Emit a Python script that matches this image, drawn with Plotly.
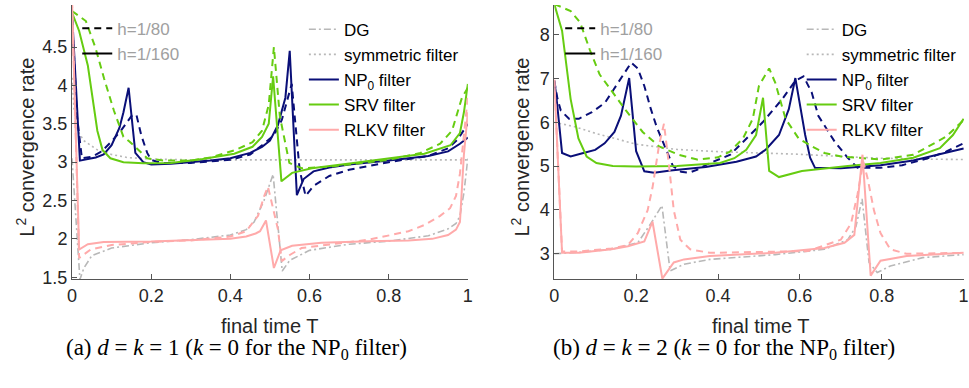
import plotly.graph_objects as go

# ---------------- data: panel (a) d=k=1 ----------------
A_NP0_160_T = [0, 0.02, 0.04, 0.06, 0.08, 0.10, 0.12, 0.13, 0.143, 0.16, 0.18, 0.20, 0.25, 0.30, 0.35, 0.40, 0.45, 0.48, 0.50, 0.52, 0.539, 0.55, 0.568, 0.585, 0.61, 0.65, 0.70, 0.80, 0.90, 0.95, 0.98, 1.0]
A_NP0_160_Y = [4.95, 3.02, 3.04, 3.06, 3.10, 3.22, 3.45, 3.65, 3.97, 3.12, 3.00, 2.97, 2.98, 3.00, 3.02, 3.05, 3.12, 3.20, 3.28, 3.48, 3.84, 4.45, 2.57, 2.78, 2.88, 2.93, 2.97, 3.02, 3.08, 3.14, 3.24, 3.32]
A_NP0_80_T = [0, 0.0125, 0.025, 0.05, 0.075, 0.10, 0.125, 0.15, 0.1625, 0.175, 0.19, 0.20, 0.225, 0.30, 0.40, 0.45, 0.48, 0.51, 0.53, 0.555, 0.575, 0.59, 0.61, 0.65, 0.70, 0.75, 0.80, 0.85, 0.90, 0.95, 0.975, 1.0]
A_NP0_80_Y = [4.9, 3.6, 3.05, 3.07, 3.14, 3.27, 3.42, 3.6, 3.62, 3.35, 3.12, 3.03, 2.99, 2.99, 3.03, 3.10, 3.22, 3.35, 3.55, 4.02, 2.9, 2.56, 2.69, 2.82, 2.90, 2.95, 3.0, 3.04, 3.08, 3.18, 3.3, 3.5]
A_SRV_160_T = [0, 0.018, 0.04, 0.05, 0.064, 0.077, 0.097, 0.13, 0.18, 0.25, 0.33, 0.41, 0.456, 0.48, 0.497, 0.508, 0.529, 0.556, 0.606, 0.706, 0.806, 0.89, 0.956, 0.98, 0.99, 1.0]
A_SRV_160_Y = [4.95, 4.71, 4.26, 3.88, 3.41, 3.16, 3.05, 3.0, 2.985, 2.99, 3.04, 3.11, 3.2, 3.33, 3.5, 4.12, 2.75, 2.86, 2.92, 2.985, 3.05, 3.11, 3.22, 3.38, 3.65, 4.02]
A_SRV_80_T = [0, 0.035, 0.06, 0.081, 0.106, 0.13, 0.145, 0.164, 0.19, 0.23, 0.30, 0.35, 0.414, 0.456, 0.48, 0.497, 0.51, 0.525, 0.549, 0.58, 0.65, 0.70, 0.80, 0.88, 0.93, 0.96, 0.985, 1.0]
A_SRV_80_Y = [4.97, 4.84, 4.48, 4.09, 3.67, 3.33, 3.27, 3.18, 3.05, 3.02, 3.02, 3.06, 3.16, 3.26, 3.41, 3.75, 4.50, 3.6, 2.99, 2.92, 2.94, 2.97, 3.03, 3.12, 3.24, 3.41, 3.84, 3.97]
A_RLKV_160_T = [0, 0.018, 0.04, 0.08, 0.2, 0.3, 0.4, 0.44, 0.464, 0.475, 0.49, 0.51, 0.527, 0.556, 0.63, 0.75, 0.85, 0.91, 0.95, 0.97, 0.98, 0.99, 1.0]
A_RLKV_160_Y = [5.1, 1.86, 1.93, 1.96, 1.965, 1.98, 2.0, 2.03, 2.07, 2.1, 2.24, 1.62, 1.85, 1.91, 1.95, 1.97, 1.98, 2.0, 2.05, 2.12, 2.22, 3.1, 3.65]
A_RLKV_80_T = [0, 0.018, 0.047, 0.1, 0.2, 0.3, 0.4, 0.44, 0.47, 0.485, 0.495, 0.52, 0.53, 0.55, 0.58, 0.664, 0.75, 0.806, 0.85, 0.89, 0.93, 0.955, 0.97, 0.98, 0.99, 1.0]
A_RLKV_80_Y = [5.1, 1.75, 1.86, 1.92, 1.96, 1.98, 2.03, 2.1, 2.3, 2.55, 2.68, 2.13, 1.71, 1.79, 1.88, 1.93, 1.99, 2.05, 2.1, 2.18, 2.3, 2.4, 2.56, 2.85, 3.4, 3.85]
A_DG_T = [0, 0.02, 0.03, 0.05, 0.1, 0.2, 0.3, 0.4, 0.44, 0.46, 0.485, 0.508, 0.531, 0.55, 0.6, 0.7, 0.8, 0.9, 0.95, 0.97, 0.98, 0.99, 1.0]
A_DG_Y = [3.05, 1.47, 1.62, 1.78, 1.88, 1.95, 1.99, 2.05, 2.12, 2.22, 2.5, 2.84, 1.58, 1.72, 1.85, 1.93, 1.97, 2.04, 2.13, 2.2, 2.3, 2.6, 3.05]
A_SYM_T = [0, 0.005, 0.014, 0.03, 0.064, 0.1, 0.14, 0.2, 0.3, 0.5, 0.7, 1.0]
A_SYM_Y = [4.1, 3.7, 3.41, 3.28, 3.16, 3.1, 3.06, 3.04, 3.03, 3.03, 3.03, 3.03]

# ---------------- data: panel (b) d=k=2 ----------------
B_NP0_160_T = [0, 0.005, 0.019, 0.04, 0.071, 0.1, 0.123, 0.147, 0.163, 0.183, 0.2, 0.22, 0.244, 0.284, 0.37, 0.445, 0.493, 0.517, 0.549, 0.573, 0.589, 0.613, 0.625, 0.637, 0.7, 0.797, 0.877, 0.957, 1.0]
B_NP0_160_Y = [6.95, 6.6, 5.3, 5.22, 5.3, 5.37, 5.52, 5.78, 6.15, 7.01, 5.34, 4.88, 4.85, 4.9, 4.98, 5.1, 5.22, 5.38, 5.71, 6.3, 7.01, 5.71, 5.19, 4.96, 4.95, 5.02, 5.13, 5.3, 5.4]
B_NP0_80_T = [0, 0.008, 0.016, 0.036, 0.06, 0.092, 0.124, 0.156, 0.188, 0.204, 0.22, 0.236, 0.25, 0.27, 0.29, 0.31, 0.33, 0.35, 0.373, 0.43, 0.469, 0.509, 0.557, 0.589, 0.609, 0.629, 0.645, 0.685, 0.717, 0.741, 0.797, 0.85, 0.917, 0.957, 1.0]
B_NP0_80_Y = [6.95, 6.53, 6.27, 6.08, 6.08, 6.23, 6.45, 6.9, 7.36, 7.23, 6.83, 6.3, 5.9, 5.45, 5.0, 4.87, 4.85, 4.92, 5.04, 5.26, 5.63, 6.0, 6.53, 6.95, 7.05, 6.68, 6.15, 5.56, 5.19, 4.96, 4.96, 5.02, 5.19, 5.33, 5.52]
B_SRV_160_T = [0, 0.019, 0.04, 0.059, 0.079, 0.103, 0.143, 0.2, 0.3, 0.35, 0.405, 0.44, 0.469, 0.493, 0.51, 0.525, 0.549, 0.605, 0.66, 0.717, 0.797, 0.877, 0.942, 0.974, 1.0]
B_SRV_160_Y = [8.7, 8.09, 6.53, 5.63, 5.22, 5.07, 5.0, 4.99, 5.0, 5.03, 5.07, 5.18, 5.37, 5.71, 6.56, 4.89, 4.75, 4.89, 4.95, 5.0, 5.07, 5.19, 5.41, 5.71, 6.08]
B_SRV_80_T = [0, 0.04, 0.063, 0.087, 0.111, 0.143, 0.175, 0.216, 0.256, 0.304, 0.349, 0.4, 0.429, 0.461, 0.485, 0.5, 0.525, 0.54, 0.565, 0.597, 0.629, 0.66, 0.701, 0.797, 0.877, 0.957, 1.0]
B_SRV_80_Y = [8.7, 8.54, 8.28, 7.65, 7.09, 6.68, 6.27, 5.78, 5.45, 5.26, 5.15, 5.2, 5.33, 5.63, 6.08, 6.83, 7.23, 6.9, 6.08, 5.63, 5.45, 5.3, 5.22, 5.15, 5.26, 5.67, 6.05]
B_RLKV_160_T = [0, 0.019, 0.06, 0.14, 0.18, 0.22, 0.24, 0.264, 0.292, 0.317, 0.38, 0.54, 0.66, 0.709, 0.733, 0.753, 0.773, 0.797, 0.861, 1.0]
B_RLKV_160_Y = [6.97, 3.02, 3.02, 3.1, 3.17, 3.28, 3.73, 2.43, 2.8, 2.87, 2.95, 3.02, 3.13, 3.25, 3.43, 5.26, 2.5, 2.84, 2.95, 3.02]
B_RLKV_80_T = [0, 0.019, 0.06, 0.14, 0.18, 0.204, 0.228, 0.24, 0.256, 0.268, 0.28, 0.292, 0.308, 0.332, 0.38, 0.62, 0.7, 0.725, 0.741, 0.755, 0.765, 0.781, 0.797, 0.821, 0.86, 1.0]
B_RLKV_80_Y = [6.97, 3.05, 3.05, 3.12, 3.2, 3.47, 3.99, 4.51, 5.48, 5.97, 5.04, 3.99, 3.32, 3.1, 3.02, 3.06, 3.32, 3.69, 4.36, 5.1, 4.74, 3.99, 3.47, 3.1, 3.0, 3.02]
B_DG_T = [0, 0.06, 0.14, 0.204, 0.236, 0.263, 0.283, 0.317, 0.38, 0.54, 0.66, 0.717, 0.737, 0.752, 0.769, 0.789, 0.821, 0.9, 1.0]
B_DG_Y = [3.0, 3.03, 3.1, 3.25, 3.69, 4.1, 2.61, 2.76, 2.87, 2.98, 3.1, 3.32, 3.62, 4.25, 2.8, 2.57, 2.72, 2.91, 2.98]
B_SYM_T = [0, 0.05, 0.1, 0.15, 0.2, 0.3, 0.4, 0.5, 0.6, 0.7, 0.8, 0.9, 1.0]
B_SYM_Y = [6.0, 5.9, 5.75, 5.62, 5.5, 5.38, 5.33, 5.3, 5.27, 5.22, 5.18, 5.16, 5.15]

X_TICKS = [0, 0.2, 0.4, 0.6, 0.8, 1.0]
X_TICKTEXT = ["0", "0.2", "0.4", "0.6", "0.8", "1"]
A_Y_TICKS = [1.5, 2, 2.5, 3, 3.5, 4, 4.5]
A_Y_TICKTEXT = ["1.5", "2", "2.5", "3", "3.5", "4", "4.5"]
B_Y_TICKS = [3, 4, 5, 6, 7, 8]
B_Y_TICKTEXT = ["3", "4", "5", "6", "7", "8"]

SERIES_NAMES = ["DG", "symmetric filter", "NP<sub>0</sub> filter", "SRV filter", "RLKV filter"]
H_NAMES = ["h=1/80", "h=1/160"]

# ---------------- styles ----------------
NAVY = "#0a0f78"
GREEN = "#66cc11"
PINK = "#ffaaaa"
GREY = "#b8b8b8"
DASH = "7px,5px"
DOT = "2px,3px"
DASHDOT = "7px,3px,2px,3px"
FONT = "Liberation Sans, Arial, Helvetica, sans-serif"
SERIF = "Liberation Serif, Times New Roman, serif"
W, H = 969, 388

fig = go.Figure()


def add(x, y, color, dash, width, xa, ya):
    fig.add_trace(go.Scatter(x=x, y=y, mode="lines",
                             line=dict(color=color, dash=dash, width=width),
                             showlegend=False, hoverinfo="skip",
                             xaxis=xa, yaxis=ya))


panels = [
    ("x", "y", [A_DG_T, A_DG_Y], [A_SYM_T, A_SYM_Y],
     [A_NP0_80_T, A_NP0_80_Y], [A_NP0_160_T, A_NP0_160_Y],
     [A_SRV_80_T, A_SRV_80_Y], [A_SRV_160_T, A_SRV_160_Y],
     [A_RLKV_80_T, A_RLKV_80_Y], [A_RLKV_160_T, A_RLKV_160_Y]),
    ("x2", "y2", [B_DG_T, B_DG_Y], [B_SYM_T, B_SYM_Y],
     [B_NP0_80_T, B_NP0_80_Y], [B_NP0_160_T, B_NP0_160_Y],
     [B_SRV_80_T, B_SRV_80_Y], [B_SRV_160_T, B_SRV_160_Y],
     [B_RLKV_80_T, B_RLKV_80_Y], [B_RLKV_160_T, B_RLKV_160_Y]),
]

for xa, ya, dg, sym, n80, n160, s80, s160, r80, r160 in panels:
    add(dg[0], dg[1], GREY, DASHDOT, 1.6, xa, ya)
    add(sym[0], sym[1], GREY, DOT, 1.6, xa, ya)
    add(n80[0], n80[1], NAVY, DASH, 2, xa, ya)
    add(n160[0], n160[1], NAVY, "solid", 2, xa, ya)
    add(s80[0], s80[1], GREEN, DASH, 2, xa, ya)
    add(s160[0], s160[1], GREEN, "solid", 2, xa, ya)
    add(r80[0], r80[1], PINK, DASH, 2, xa, ya)
    add(r160[0], r160[1], PINK, "solid", 2, xa, ya)

# ---------------- legends (legend-only entries) ----------------
series_styles = [(GREY, DASHDOT, 1.6), (GREY, DOT, 1.6), (NAVY, "solid", 2),
                 (GREEN, "solid", 2), (PINK, "solid", 2)]
h_styles = [("black", DASH, 2), ("black", "solid", 2)]

for xa, ya, lg_h, lg_s in [("x", "y", "legend", "legend2"), ("x2", "y2", "legend3", "legend4")]:
    for name, (c, d, w) in zip(H_NAMES, h_styles):
        fig.add_trace(go.Scatter(x=[None], y=[None], mode="lines", name=name,
                                 line=dict(color=c, dash=d, width=w),
                                 legend=lg_h, xaxis=xa, yaxis=ya))
    for name, (c, d, w) in zip(SERIES_NAMES, series_styles):
        fig.add_trace(go.Scatter(x=[None], y=[None], mode="lines", name=name,
                                 line=dict(color=c, dash=d, width=w),
                                 legend=lg_s, xaxis=xa, yaxis=ya))


def legend_cfg(px, py, color):
    return dict(x=px / W, y=1 - py / H, xanchor="left", yanchor="top",
                bgcolor="rgba(0,0,0,0)", borderwidth=0,
                font=dict(family=FONT, size=17, color=color),
                tracegroupgap=0, itemwidth=30)

ax_common = dict(showgrid=False, zeroline=False, showline=True, linecolor="#555555",
                 linewidth=1, ticks="inside", ticklen=5, tickcolor="#555555",
                 ticklabeloverflow="allow",
                 tickfont=dict(family=FONT, size=18, color="#262626"))

Y_DOM = [1 - 285 / H, 1 - 5 / H]

fig.update_layout(
    width=W, height=H, autosize=False,
    margin=dict(l=0, r=0, t=0, b=0),
    paper_bgcolor="white", plot_bgcolor="white",
    xaxis=dict(domain=[67.7 / W, 467.7 / W], range=[0, 1], anchor="y",
               tickvals=X_TICKS, ticktext=X_TICKTEXT, **ax_common),
    yaxis=dict(domain=Y_DOM, range=[1.475, 5.05], anchor="x",
               tickvals=A_Y_TICKS, ticktext=A_Y_TICKTEXT, **ax_common),
    xaxis2=dict(domain=[555 / W, 1.0], range=[0, 1.001], anchor="y2",
                tickvals=X_TICKS, ticktext=X_TICKTEXT, **ax_common),
    yaxis2=dict(domain=Y_DOM, range=[2.42, 8.68], anchor="x2",
                tickvals=B_Y_TICKS, ticktext=B_Y_TICKTEXT, **ax_common),
    legend=legend_cfg(73, 11, "#a0a0a0"),
    legend2=legend_cfg(302, 12, "black"),
    legend3=legend_cfg(561, 11, "#a0a0a0"),
    legend4=legend_cfg(805, 12, "black"),
    showlegend=True,
)

annots = [
    dict(text="L<sup>2</sup> convergence rate", x=21 / W, y=1 - 150 / H, textangle=-90,
         font=dict(family=FONT, size=20, color="#262626")),
    dict(text="L<sup>2</sup> convergence rate", x=521 / W, y=1 - 150 / H, textangle=-90,
         font=dict(family=FONT, size=20, color="#262626")),
    dict(text="final time T", x=267.7 / W, y=1 - 333 / H,
         font=dict(family=FONT, size=20, color="#262626")),
    dict(text="final time T", x=763 / W, y=1 - 333 / H,
         font=dict(family=FONT, size=20, color="#262626")),
    dict(text="(a) <i>d</i> = <i>k</i> = 1 (<i>k</i> = 0 for the NP<sub>0</sub> filter)",
         x=234 / W, y=1 - 356 / H, font=dict(family=SERIF, size=23, color="black")),
    dict(text="(b) <i>d</i> = <i>k</i> = 2 (<i>k</i> = 0 for the NP<sub>0</sub> filter)",
         x=726 / W, y=1 - 356 / H, font=dict(family=SERIF, size=23, color="black")),
]
for a in annots:
    fig.add_annotation(xref="paper", yref="paper", xanchor="center", yanchor="middle",
                       showarrow=False, **a)

fig.write_html("out.html")
